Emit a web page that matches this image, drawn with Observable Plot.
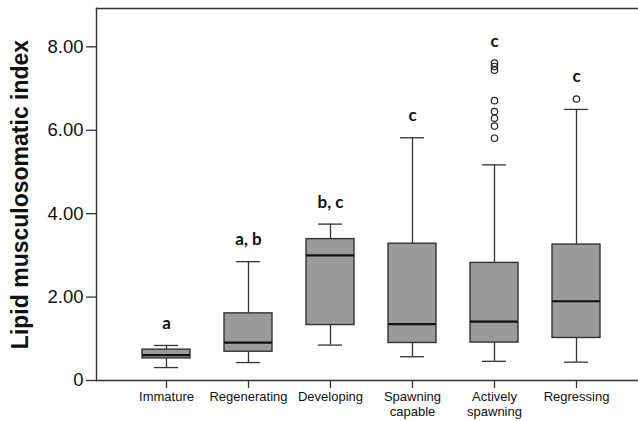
<!DOCTYPE html>
<html>
<head>
<meta charset="utf-8">
<script src="https://cdn.jsdelivr.net/npm/d3@7"></script>
<script src="https://cdn.jsdelivr.net/npm/@observablehq/plot@0.6"></script>
<style>
  html, body { margin: 0; padding: 0; background: #fff; }
  #chart { width: 638px; height: 421px; }
</style>
</head>
<body>
<div id="chart"></div>
<script>
const stages = ["Immature", "Regenerating", "Developing", "Spawning capable", "Actively spawning", "Regressing"];
const tickLabels = ["Immature", "Regenerating", "Developing", "Spawning\ncapable", "Actively\nspawning", "Regressing"];
const whiskerLow  = [0.31, 0.43, 0.85, 0.57, 0.46, 0.44];
const q1          = [0.53, 0.69, 1.33, 0.90, 0.91, 1.02];
const median      = [0.61, 0.91, 3.00, 1.35, 1.41, 1.90];
const q3          = [0.74, 1.61, 3.39, 3.28, 2.82, 3.26];
const whiskerHigh = [0.84, 2.85, 3.75, 5.82, 5.17, 6.50];
const outlierStage = ["Actively spawning", "Actively spawning", "Actively spawning", "Actively spawning",
                      "Actively spawning", "Actively spawning", "Actively spawning", "Actively spawning", "Regressing"];
const outlierValue = [5.81, 6.10, 6.29, 6.45, 6.71, 7.44, 7.53, 7.61, 6.75];
const letters = ["a", "a, b", "b, c", "c", "c", "c"];
const yTicks = [0, 2, 4, 6, 8];

const boxes = stages.map((s, i) => ({
  stage: s, lo: whiskerLow[i], q1: q1[i], med: median[i], q3: q3[i], hi: whiskerHigh[i]
}));
const outliers = outlierStage.map((s, i) => ({stage: s, value: outlierValue[i]}));
const labels = stages.map((s, i) => ({
  stage: s,
  text: letters[i],
  top: Math.max(whiskerHigh[i], ...outliers.filter(o => o.stage === s).map(o => o.value))
}));

const ink = "#333";
const yFmt = d => d === 0 ? "0" : d3.format(".2f")(d);
const xFmt = d => tickLabels[stages.indexOf(d)];

const chart = Plot.plot({
  width: 638,
  height: 421,
  marginLeft: 96,
  marginRight: 0,
  marginTop: 8,
  marginBottom: 41,
  style: {background: "#fff"},
  x: {
    type: "band",
    domain: stages,
    paddingInner: 0.42,
    paddingOuter: 0.5,
    align: 0.54,
    label: null,
    tickSize: 8,
    tickPadding: 3,
    tickFormat: xFmt
  },
  y: {
    domain: [0, 8.92],
    ticks: yTicks,
    tickFormat: yFmt,
    label: null,
    tickSize: 10,
    tickPadding: 3
  },
  marks: [
    Plot.frame({anchor: "top", stroke: ink, strokeWidth: 1.4}),
    Plot.frame({anchor: "left", stroke: ink, strokeWidth: 1.4}),
    Plot.ruleX(boxes, {x: "stage", y1: "lo", y2: "q1", stroke: ink, strokeWidth: 1.3}),
    Plot.ruleX(boxes, {x: "stage", y1: "q3", y2: "hi", stroke: ink, strokeWidth: 1.3}),
    Plot.tickY(boxes, {x: "stage", y: "lo", stroke: ink, strokeWidth: 1.3, insetLeft: 12, insetRight: 12}),
    Plot.tickY(boxes, {x: "stage", y: "hi", stroke: ink, strokeWidth: 1.3, insetLeft: 12, insetRight: 12}),
    Plot.barY(boxes, {x: "stage", y1: "q1", y2: "q3", fill: "#9b9b9b", stroke: ink, strokeWidth: 1.4}),
    Plot.tickY(boxes, {x: "stage", y: "med", stroke: "#111", strokeWidth: 2.2}),
    Plot.dot(outliers, {x: "stage", y: "value", r: 3.2, stroke: "#222", strokeWidth: 1.2, fill: "none"}),
    Plot.text(labels, {x: "stage", y: "top", text: "text", dy: -22, fontSize: 17, fontWeight: "bold",
      fontFamily: "Lato, 'Open Sans', sans-serif", fill: "#111"}),
    Plot.frame({anchor: "bottom", stroke: ink, strokeWidth: 1.4}),
    Plot.axisY({ticks: yTicks, tickFormat: yFmt, tickSize: 10, tickPadding: 3,
      fontSize: 18.5, label: null, stroke: ink, strokeWidth: 1.3}),
    Plot.axisX({tickSize: 8, tickPadding: 3, fontSize: 13, label: null, lineHeight: 1.08,
      tickFormat: xFmt, stroke: ink, strokeWidth: 1.3}),
    Plot.text(["Lipid musculosomatic index"], {frameAnchor: "left", textAnchor: "middle", dx: -76, rotate: -90,
      fontSize: 23, fontWeight: "bold", fill: "#111", fontFamily: "'Liberation Sans', Arial, sans-serif"})
  ]
});
chart.style.fontFamily = "'Liberation Sans', Arial, sans-serif";
chart.style.color = "#111";
document.getElementById("chart").appendChild(chart);
</script>
</body>
</html>
